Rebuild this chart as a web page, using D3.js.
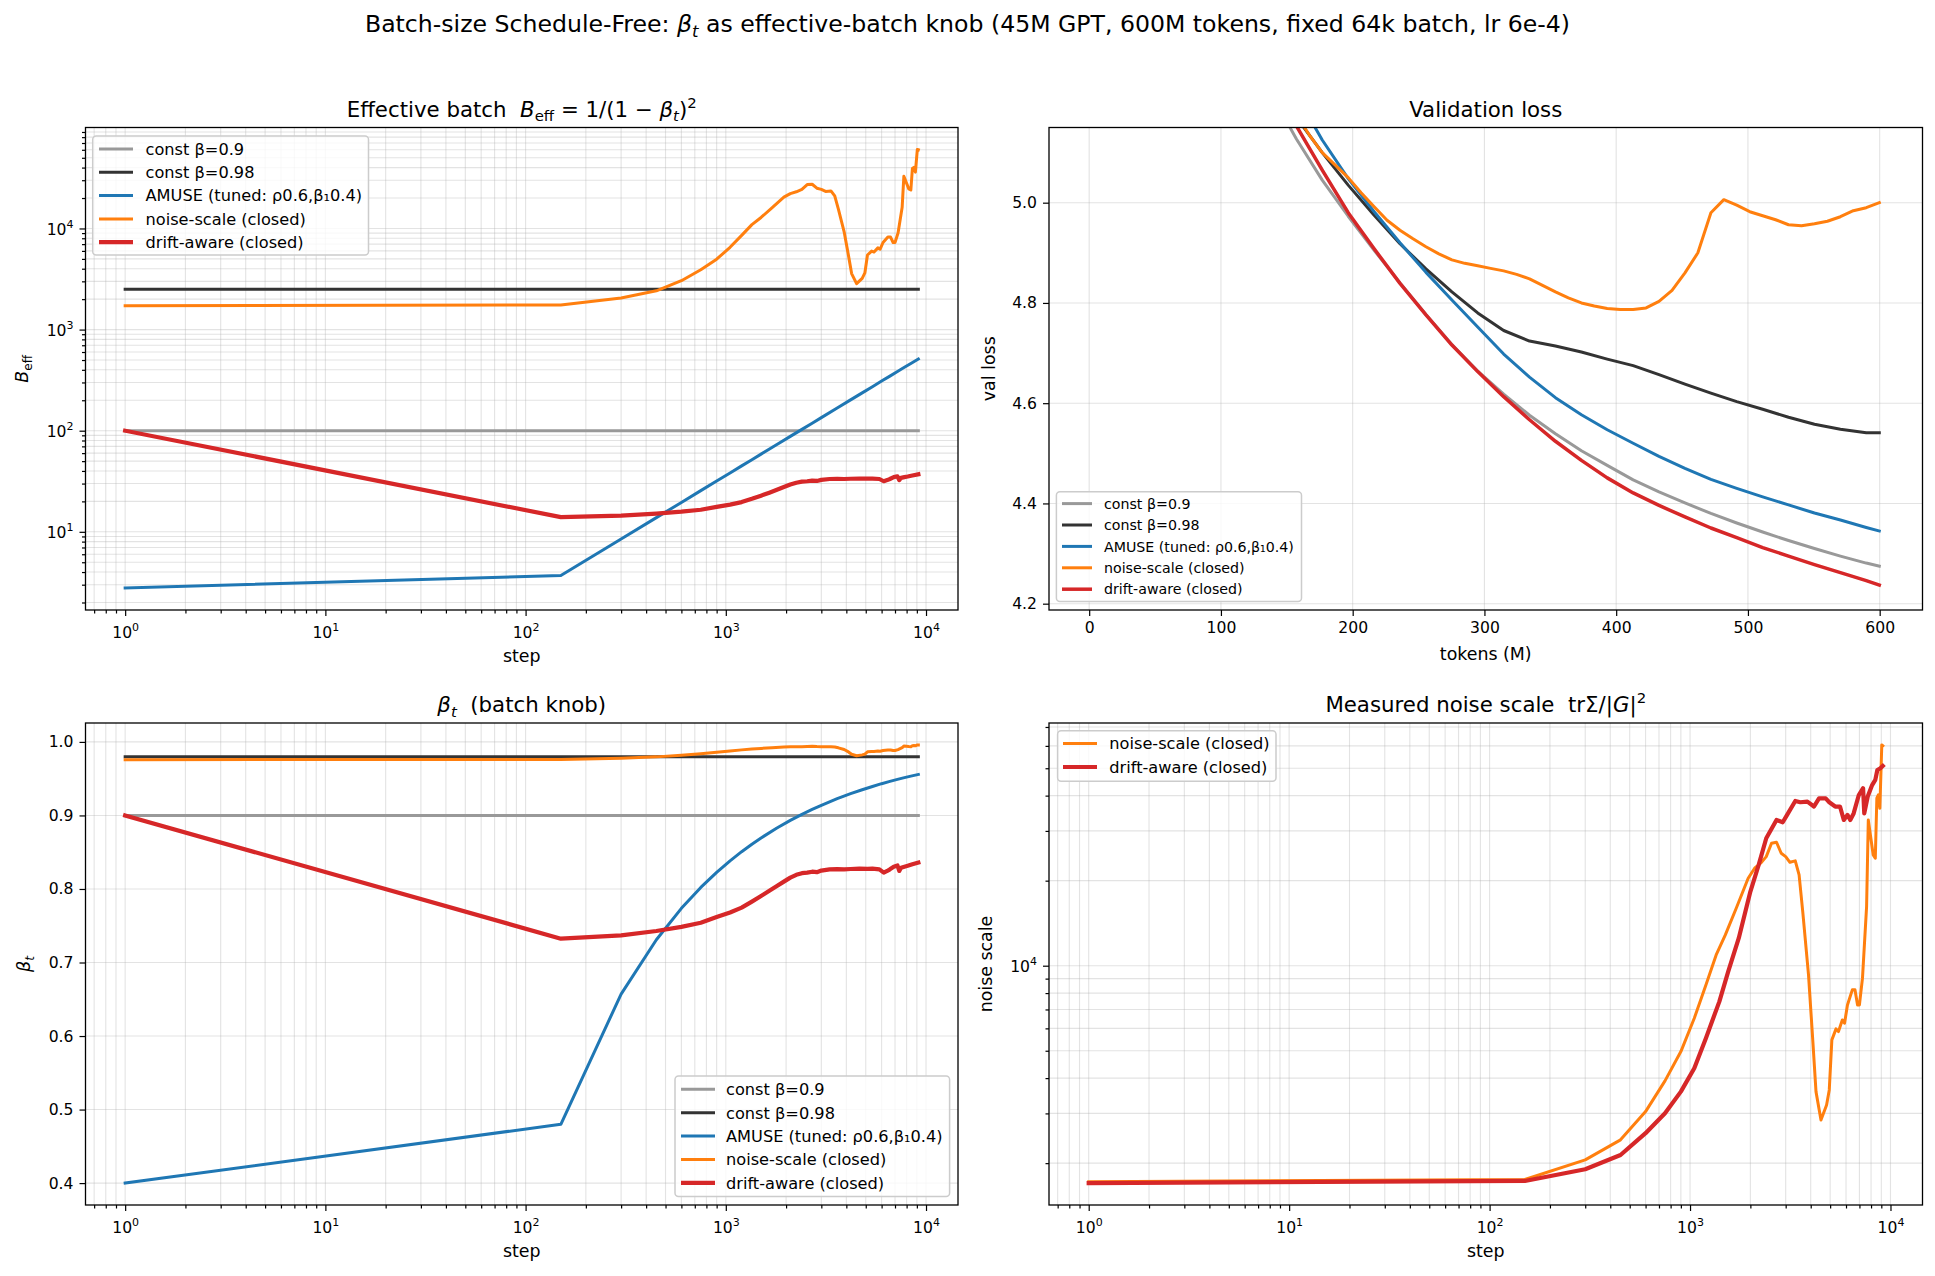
<!DOCTYPE html>
<html>
<head>
<meta charset="utf-8">
<script src="https://cdn.jsdelivr.net/npm/d3@7"></script>
<style>
body { margin: 0; background: #ffffff; }
svg text { font-family: "DejaVu Sans", sans-serif; white-space: pre; }
</style>
</head>
<body>
<svg width="1935" height="1276"></svg>
<script>
// ---- values ----
var names  = ["const β=0.9", "const β=0.98", "AMUSE (tuned: ρ0.6,β₁0.4)", "noise-scale (closed)", "drift-aware (closed)"];
var colors = ["#999999", "#333333", "#1f77b4", "#ff7f0e", "#d62728"];

// beta_t per run (step, beta)
var constSteps = [1, 9155];
var beta09  = [0.9, 0.9];
var beta098 = [0.98, 0.98];

var amuseSteps = [1, 150, 300, 450, 600, 750, 900, 1050, 1200, 1350, 1500, 1800, 2100, 2400, 2700, 3000, 3600, 4200, 4800, 5400,
                  6000, 6600, 7200, 7800, 8400, 9155];
var amuseBeta  = [0.400, 0.480, 0.657, 0.731, 0.7737, 0.8021, 0.8226, 0.8382, 0.8507, 0.8609, 0.8694, 0.8829, 0.8933, 0.9015, 0.9082, 0.9138, 0.9228, 0.9296, 0.9350, 0.9394,
                  0.9432, 0.9463, 0.9490, 0.9514, 0.9535, 0.9558];

var driftSteps = [1, 150, 300, 450, 600, 750, 900, 1050, 1200, 1350, 1500, 1650, 1800, 1950, 2100, 2250, 2400, 2550, 2700, 2850,
                  3000, 3300, 3600, 3900, 4200, 4650, 5100, 5400, 5850, 6150, 6400, 6600, 6900, 7200, 7350, 7500, 7800, 8100, 8550, 9155];
var driftBeta  = [0.900, 0.7324, 0.7369, 0.7428, 0.7485, 0.7541, 0.7619, 0.7680, 0.7746, 0.7828, 0.7905, 0.7975, 0.8041, 0.8100, 0.8154, 0.8192, 0.8215, 0.8222, 0.8235, 0.8228,
                  0.8250, 0.8267, 0.8270, 0.8267, 0.8272, 0.8276, 0.8274, 0.8276, 0.8267, 0.8222, 0.8245, 0.8267, 0.8303, 0.8320, 0.8245, 0.8290, 0.8303, 0.8315, 0.8335, 0.8358];

// measured noise scale, noise-scale run (it sets B_eff to this)
var nsSteps = [1, 150, 300, 450, 600, 750, 900, 1050, 1200, 1350, 1500, 1700, 1950, 2100, 2250, 2400, 2550, 2700, 2850, 3000,
               3150, 3350, 3500, 3650, 3900, 4100, 4250, 4500, 4800, 4950, 5100, 5350, 5500, 5750, 5900, 6100, 6450, 6650, 6850, 7000,
               7250, 7600, 7750, 8200, 8400, 8550, 8700, 8850, 9050, 9155];
var nsNoise = [1720, 1750, 2054, 2418, 3045, 3911, 4966, 6516, 8551, 10920, 12850, 15980, 20400, 22130, 23060, 24330, 27140, 27360, 25010, 24330,
               23230, 23500, 20960, 15540, 9277, 5386, 3583, 2845, 3215, 3633, 5464, 5974, 5843, 6427, 6255, 7262, 8212, 8212, 7262, 7262,
               9033, 16190, 32810, 24660, 24020, 39170, 40230, 36100, 60480, 60000];

// measured noise scale, drift-aware run
var dnSteps = [1, 150, 300, 450, 600, 750, 900, 1050, 1200, 1400, 1550, 1750, 2000, 2200, 2400, 2700, 2900, 3050, 3350, 3550,
               3850, 4150, 4400, 4750, 4950, 5300, 5600, 5850, 6100, 6300, 6550, 6950, 7300, 7400, 7700, 8100, 8400, 8600, 8900, 9155];
var dnNoise = [1700, 1730, 1904, 2138, 2553, 3006, 3583, 4337, 5540, 7463, 9530, 12510, 18300, 22750, 28260, 32810, 32200, 34200, 38300, 37900,
               38100, 36600, 39100, 39100, 37900, 36600, 36600, 32800, 34200, 32800, 34600, 40200, 42500, 34600, 39700, 43600, 45500, 49300, 50000, 50960];

// validation loss vs tokens (M)
var valTokens   = [137.6, 157.3, 176.9, 196.6, 216.3, 235.9, 255.6, 275.3, 294.9, 314.6, 334.2, 353.9, 373.6, 393.2, 412.9, 432.5, 452.2, 471.9, 491.5, 511.2, 530.8, 550.5, 570.2, 589.8, 599.7];
var valConst09  = [5.22, 5.127, 5.045, 4.973, 4.905, 4.84, 4.777, 4.717, 4.664, 4.618, 4.576, 4.539, 4.505, 4.476, 4.447, 4.423, 4.401, 4.380, 4.361, 4.343, 4.326, 4.310, 4.295, 4.281, 4.275];
var valConst098 = [5.27, 5.17, 5.10, 5.035, 4.975, 4.918, 4.868, 4.822, 4.78, 4.745, 4.724, 4.714, 4.702, 4.688, 4.675, 4.657, 4.638, 4.62, 4.603, 4.588, 4.572, 4.558, 4.548, 4.541, 4.541];
var valAmuse    = [5.30, 5.215, 5.125, 5.048, 4.982, 4.92, 4.861, 4.806, 4.752, 4.698, 4.652, 4.611, 4.577, 4.547, 4.52, 4.494, 4.47, 4.448, 4.43, 4.413, 4.397, 4.381, 4.367, 4.352, 4.345];
var valDrift    = [5.26, 5.153, 5.065, 4.98, 4.908, 4.839, 4.776, 4.716, 4.663, 4.613, 4.567, 4.524, 4.486, 4.451, 4.421, 4.396, 4.373, 4.351, 4.332, 4.312, 4.295, 4.278, 4.262, 4.246, 4.237];
var valNoiseTokens = [137.6, 147.5, 157.3, 167.1, 176.9, 186.8, 196.6, 206.4, 216.3, 226.1, 235.9, 245.8, 255.6, 265.4, 275.3, 285.1, 294.9, 304.7, 314.6, 324.4,
                      334.2, 344.1, 353.9, 363.7, 373.6, 383.4, 393.2, 403.0, 412.9, 422.7, 432.5, 442.4, 452.2, 462.0, 471.9, 481.7, 491.5, 501.4, 511.2, 521.0,
                      530.8, 540.7, 550.5, 560.3, 570.2, 580.0, 589.8, 599.7];
var valNoise = [5.30, 5.23, 5.175, 5.135, 5.10, 5.075, 5.05, 5.02, 4.992, 4.965, 4.945, 4.928, 4.912, 4.898, 4.886, 4.879, 4.874, 4.869, 4.864, 4.857,
                4.848, 4.835, 4.822, 4.81, 4.80, 4.794, 4.789, 4.787, 4.787, 4.79, 4.803, 4.825, 4.86, 4.90, 4.98, 5.006, 4.995, 4.982, 4.974, 4.966,
                4.956, 4.954, 4.958, 4.963, 4.972, 4.984, 4.99, 5.0];

var tickLin = [0.4, 0.5, 0.6, 0.7, 0.8, 0.9, 1.0];
var tickLoss = [4.2, 4.4, 4.6, 4.8, 5.0];
var tickTokens = [0, 100, 200, 300, 400, 500, 600];

// ---- helpers ----
var svg = d3.select("svg");
var clipN = 0;

function bEff(b) { return 1 / ((1 - b) * (1 - b)); }
function betaFromB(n) { return 1 - 1 / Math.sqrt(n); }
function zip(xs, ys) { return xs.map(function(x, i) { return [x, ys[i]]; }); }

function logPad(lo, hi) {
  var a = Math.log10(lo), b = Math.log10(hi), m = (b - a) * 0.05;
  return [Math.pow(10, a - m), Math.pow(10, b + m)];
}
function linPad(lo, hi) { var m = (hi - lo) * 0.05; return [lo - m, hi + m]; }

function logTicks(dom) {
  var major = [], minor = [];
  for (var e = Math.floor(Math.log10(dom[0])); e <= Math.ceil(Math.log10(dom[1])); e++) {
    for (var k = 1; k < 10; k++) {
      var v = k * Math.pow(10, e);
      if (v < dom[0] || v > dom[1]) continue;
      if (k === 1) major.push(v); else minor.push(v);
    }
  }
  return {major: major, minor: minor};
}

// text with mathtext-like italics, sub and superscripts
function rich(sel, parts, size) {
  var off = 0;
  parts.forEach(function(p) {
    var s = p[1] || "";
    var target = s.indexOf("sub") >= 0 ? 0.22 * size : (s.indexOf("sup") >= 0 ? -0.42 * size : 0);
    var ts = sel.append("tspan").text(p[0])
      .attr("font-size", target !== 0 ? size * 0.7 : size)
      .attr("font-style", s.charAt(0) === "i" ? "italic" : "normal");
    if (target !== off) ts.attr("dy", target - off);
    off = target;
  });
  return sel;
}

function styleAxis(ag) {
  ag.attr("font-size", 15.6).attr("font-family", "DejaVu Sans");
  ag.select(".domain").remove();
  ag.selectAll(".tick line").attr("stroke", "#000").attr("stroke-width", 1.2);
  ag.selectAll(".tick text").attr("fill", "#000");
}

function powLabels(ag, isX) {
  ag.selectAll(".tick text").each(function(d) {
    var t = d3.select(this).text(null).attr("dy", null);
    if (isX) t.attr("y", 28); else t.attr("dy", 6);
    t.append("tspan").text("10");
    t.append("tspan").attr("dy", -7).attr("font-size", 11).text(Math.round(Math.log10(d)));
  });
}

function panel(box, xs, ys, o) {
  var g = svg.append("g");
  var cid = "clip" + (clipN++);
  g.append("clipPath").attr("id", cid).append("rect")
    .attr("x", box.x0).attr("y", box.y0).attr("width", box.x1 - box.x0).attr("height", box.y1 - box.y0);

  var grid = g.append("g").attr("stroke", "#b0b0b0").attr("stroke-opacity", 0.35).attr("stroke-width", 1.1);
  o.xGrid.forEach(function(v) {
    grid.append("line").attr("x1", xs(v)).attr("x2", xs(v)).attr("y1", box.y0).attr("y2", box.y1);
  });
  o.yGrid.forEach(function(v) {
    grid.append("line").attr("y1", ys(v)).attr("y2", ys(v)).attr("x1", box.x0).attr("x2", box.x1);
  });

  var lines = g.append("g").attr("clip-path", "url(#" + cid + ")");
  var line = d3.line().x(function(d) { return xs(d[0]); }).y(function(d) { return ys(d[1]); });
  o.series.forEach(function(s) {
    lines.append("path").datum(s.pts).attr("d", line)
      .attr("fill", "none").attr("stroke", s.color).attr("stroke-width", s.w)
      .attr("stroke-linejoin", "round").attr("stroke-linecap", "square");
  });

  var xa = g.append("g").attr("transform", "translate(0," + box.y1 + ")")
    .call(d3.axisBottom(xs).tickValues(o.xMajor).tickSize(6).tickPadding(6).tickFormat(o.xFmt || null));
  styleAxis(xa);
  if (o.xLog) powLabels(xa, true);
  if (o.xMinor) {
    var xm = g.append("g").attr("transform", "translate(0," + box.y1 + ")")
      .call(d3.axisBottom(xs).tickValues(o.xMinor).tickSize(3.5).tickFormat(""));
    styleAxis(xm);
  }
  var ya = g.append("g").attr("transform", "translate(" + box.x0 + ",0)")
    .call(d3.axisLeft(ys).tickValues(o.yMajor).tickSize(6).tickPadding(6).tickFormat(o.yFmt || null));
  styleAxis(ya);
  if (o.yLog) powLabels(ya, false);
  if (o.yMinor) {
    var ym = g.append("g").attr("transform", "translate(" + box.x0 + ",0)")
      .call(d3.axisLeft(ys).tickValues(o.yMinor).tickSize(3.5).tickFormat(""));
    styleAxis(ym);
  }

  g.append("rect").attr("x", box.x0).attr("y", box.y0)
    .attr("width", box.x1 - box.x0).attr("height", box.y1 - box.y0)
    .attr("fill", "none").attr("stroke", "#000").attr("stroke-width", 1.3);

  // title
  rich(g.append("text").attr("x", (box.x0 + box.x1) / 2).attr("y", box.y0 - 11)
    .attr("text-anchor", "middle"), o.title, 21.3);
  // axis labels
  g.append("text").attr("x", (box.x0 + box.x1) / 2).attr("y", box.y1 + o.xLabelDy)
    .attr("text-anchor", "middle").attr("font-size", 17.4).text(o.xLabel);
  rich(g.append("text").attr("text-anchor", "middle")
    .attr("transform", "translate(" + o.yLabelX + "," + (box.y0 + box.y1) / 2 + ") rotate(-90)"), o.yLabel, 17.4);
  return g;
}

function legend(box, rowY0, rowDy, hx0, hx1, tx, fs, items) {
  var g = svg.append("g");
  g.append("rect").attr("x", box[0]).attr("y", box[1]).attr("width", box[2] - box[0]).attr("height", box[3] - box[1])
    .attr("rx", 3.5).attr("fill", "#ffffff").attr("fill-opacity", 0.8)
    .attr("stroke", "#cccccc").attr("stroke-width", 1.5);
  items.forEach(function(it, i) {
    var y = rowY0 + i * rowDy;
    g.append("line").attr("x1", hx0).attr("x2", hx1).attr("y1", y).attr("y2", y)
      .attr("stroke", it.color).attr("stroke-width", it.w);
    g.append("text").attr("x", tx).attr("y", y + fs * 0.36).attr("font-size", fs).text(it.name);
  });
}

// ---- layout ----
var boxEff   = {x0: 85.5, x1: 958,    y0: 127.5, y1: 610};
var boxVal   = {x0: 1049, x1: 1922.5, y0: 127.5, y1: 610};
var boxBeta  = {x0: 85.5, x1: 958,    y0: 723,   y1: 1205};
var boxNoise = {x0: 1049, x1: 1922.5, y0: 723,   y1: 1205};

var stepDom = logPad(1, 9155);
var stepTicks = logTicks(stepDom);
var thick = [3.0, 3.0, 3.0, 3.0, 4.2];

// ---- panel 1: effective batch ----
var effSeries = [
  zip(constSteps, beta09.map(bEff)),
  zip(constSteps, beta098.map(bEff)),
  zip(amuseSteps, amuseBeta.map(bEff)),
  zip(nsSteps, nsNoise),
  zip(driftSteps, driftBeta.map(bEff))
];
var effAll = [].concat.apply([], effSeries).map(function(d) { return d[1]; });
var effDom = logPad(d3.min(effAll), d3.max(effAll));
var effTicks = logTicks(effDom);
var xEff = d3.scaleLog().domain(stepDom).range([boxEff.x0, boxEff.x1]);
var yEff = d3.scaleLog().domain(effDom).range([boxEff.y1, boxEff.y0]);

panel(boxEff, xEff, yEff, {
  series: effSeries.map(function(p, i) { return {pts: p, color: colors[i], w: thick[i]}; }),
  xGrid: stepTicks.major.concat(stepTicks.minor), yGrid: effTicks.major.concat(effTicks.minor),
  xMajor: stepTicks.major, xMinor: stepTicks.minor, xLog: true,
  yMajor: effTicks.major, yMinor: effTicks.minor, yLog: true,
  title: [["Effective batch  "], ["B", "i"], ["eff", "sub"], [" = 1/(1 − "], ["β", "i"], ["t", "isub"], [")"], ["2", "sup"]],
  xLabel: "step", xLabelDy: 52,
  yLabel: [["B", "i"], ["eff", "sub"]], yLabelX: 28
});
legend([92.7, 136, 368.5, 255], 149, 23.3, 99, 133, 145.5, 16.2,
  names.map(function(n, i) { return {name: n, color: colors[i], w: thick[i]}; }));

// ---- panel 2: validation loss ----
var xVal = d3.scaleLinear().domain([-30.5, 632.5]).range([boxVal.x0, boxVal.x1]);
var yVal = d3.scaleLinear().domain([4.1874, 5.15]).range([boxVal.y1, boxVal.y0]);
var valSeries = [
  zip(valTokens, valConst09), zip(valTokens, valConst098), zip(valTokens, valAmuse),
  zip(valNoiseTokens, valNoise), zip(valTokens, valDrift)
];
var thinV = [3.0, 3.0, 3.0, 3.0, 3.5];
panel(boxVal, xVal, yVal, {
  series: valSeries.map(function(p, i) { return {pts: p, color: colors[i], w: thinV[i]}; }),
  xGrid: tickTokens, yGrid: tickLoss,
  xMajor: tickTokens, xFmt: d3.format("d"),
  yMajor: tickLoss, yFmt: d3.format(".1f"),
  title: [["Validation loss"]],
  xLabel: "tokens (M)", xLabelDy: 50,
  yLabel: [["val loss"]], yLabelX: 995
});
legend([1056.4, 491.8, 1301.5, 601.4], 503.6, 21.4, 1062, 1092, 1104, 14.2,
  names.map(function(n, i) { return {name: n, color: colors[i], w: thinV[i]}; }));

// ---- panel 3: beta_t ----
var betaSeries = [
  zip(constSteps, beta09), zip(constSteps, beta098), zip(amuseSteps, amuseBeta),
  zip(nsSteps, nsNoise.map(betaFromB)), zip(driftSteps, driftBeta)
];
var betaAll = [].concat.apply([], betaSeries).map(function(d) { return d[1]; });
var xBeta = d3.scaleLog().domain(stepDom).range([boxBeta.x0, boxBeta.x1]);
var yBeta = d3.scaleLinear().domain(linPad(d3.min(betaAll), d3.max(betaAll))).range([boxBeta.y1, boxBeta.y0]);
panel(boxBeta, xBeta, yBeta, {
  series: betaSeries.map(function(p, i) { return {pts: p, color: colors[i], w: thick[i]}; }),
  xGrid: stepTicks.major.concat(stepTicks.minor), yGrid: tickLin,
  xMajor: stepTicks.major, xMinor: stepTicks.minor, xLog: true,
  yMajor: tickLin, yFmt: d3.format(".1f"),
  title: [["β", "i"], ["t", "isub"], ["  (batch knob)"]],
  xLabel: "step", xLabelDy: 52,
  yLabel: [["β", "i"], ["t", "isub"]], yLabelX: 30
});
legend([675, 1076, 949.6, 1196.5], 1089.3, 23.4, 681, 715, 726, 16.2,
  names.map(function(n, i) { return {name: n, color: colors[i], w: thick[i]}; }));

// ---- panel 4: measured noise scale ----
var noiseSeries = [zip(nsSteps, nsNoise), zip(dnSteps, dnNoise)];
var noiseAll = nsNoise.concat(dnNoise);
var noiseDom = logPad(d3.min(noiseAll), d3.max(noiseAll));
var noiseTicks = logTicks(noiseDom);
var xNoise = d3.scaleLog().domain(stepDom).range([boxNoise.x0, boxNoise.x1]);
var yNoise = d3.scaleLog().domain(noiseDom).range([boxNoise.y1, boxNoise.y0]);
panel(boxNoise, xNoise, yNoise, {
  series: [{pts: noiseSeries[0], color: colors[3], w: thick[3]}, {pts: noiseSeries[1], color: colors[4], w: thick[4]}],
  xGrid: stepTicks.major.concat(stepTicks.minor), yGrid: noiseTicks.major.concat(noiseTicks.minor),
  xMajor: stepTicks.major, xMinor: stepTicks.minor, xLog: true,
  yMajor: noiseTicks.major, yMinor: noiseTicks.minor, yLog: true,
  title: [["Measured noise scale  trΣ/|"], ["G", "i"], ["|"], ["2", "sup"]],
  xLabel: "step", xLabelDy: 52,
  yLabel: [["noise scale"]], yLabelX: 992
});
legend([1057.6, 730.7, 1276, 781.3], 743.4, 23.6, 1063, 1097, 1109.3, 16.2,
  [{name: names[3], color: colors[3], w: thick[3]}, {name: names[4], color: colors[4], w: thick[4]}]);

// ---- figure title ----
rich(svg.append("text").attr("x", 967.5).attr("y", 32).attr("text-anchor", "middle"),
  [["Batch-size Schedule-Free: "], ["β", "i"], ["t", "isub"],
   [" as effective-batch knob (45M GPT, 600M tokens, fixed 64k batch, lr 6e-4)"]], 23.6);
</script>
</body>
</html>
